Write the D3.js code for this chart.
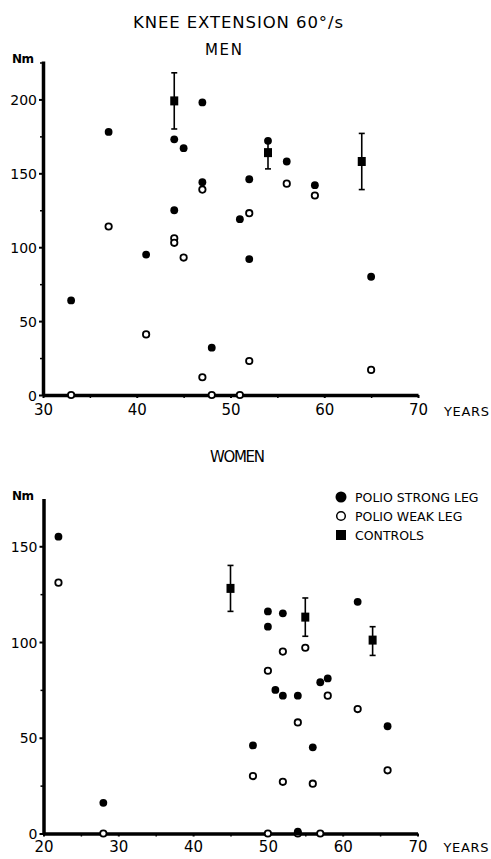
<!DOCTYPE html>
<html><head><meta charset="utf-8">
<script src="https://cdn.jsdelivr.net/npm/d3@7"></script>
<style>body{margin:0;background:#fff}svg{display:block}text{font-family:"DejaVu Sans",sans-serif;fill:#000}</style>
</head><body>
<svg id="c" width="491" height="859"></svg>
<script>
// ---- DATA ----
const menXTicks = [30, 40, 50, 60, 70];
const menYTicks = [0, 50, 100, 150, 200];
const womenXTicks = [20, 30, 40, 50, 60, 70];
const womenYTicks = [0, 50, 100, 150];
// [age, Nm]
const menStrong = [[33,64],[37,178],[41,95],[44,125],[44,173],[45,167],[47,198],[47,144],[48,32],[51,119],[52,92],[52,146],[54,172],[56,158],[59,142],[65,80]];
const menWeak = [[33,0],[37,114],[41,41],[44,106],[44,103],[45,93],[47,139],[47,12],[48,0],[51,0],[52,123],[52,23],[56,143],[59,135],[65,17]];
// [age, mean, low, high]
const menControls = [[44,199,180,218],[54,164,153,172],[64,158,139,177]];
const womenStrong = [[22,155],[28,16],[48,46],[50,116],[50,108],[52,115],[51,75],[52,72],[54,72],[56,45],[57,79],[58,81],[62,121],[66,56],[54,1]];
const womenWeak = [[22,131],[28,0],[48,30],[50,85],[50,0],[52,95],[52,27],[54,58],[54,0],[55,97],[56,26],[57,0],[58,72],[62,65],[66,33]];
const womenControls = [[45,128,116,140],[55,113,103,123],[64,101,93,108]];
const legendLabels = ["POLIO STRONG LEG", "POLIO WEAK LEG", "CONTROLS"];

const svg = d3.select("#c");

function panel(cfg){
  const x = d3.scaleLinear().domain(cfg.xDom).range(cfg.xRange);
  const y = d3.scaleLinear().domain(cfg.yDom).range(cfg.yRange);
  const g = svg.append("g");
  // minor ticks
  const minorY = d3.range(cfg.yTicks[0] + 25, cfg.yDom[1], 50);
  g.append("g").attr("transform", `translate(${cfg.xRange[0]},0)`)
    .call(d3.axisLeft(y).tickValues(minorY).tickSize(3).tickSizeOuter(0).tickFormat(""))
    .call(a => a.select(".domain").remove())
    .call(a => a.selectAll("line").attr("stroke-width", 1.5));
  const minorX = d3.range(cfg.xDom[0] + 5, cfg.xDom[1], 10);
  g.append("g").attr("transform", `translate(0,${cfg.yRange[0]})`)
    .call(d3.axisBottom(x).tickValues(minorX).tickSize(3).tickSizeOuter(0).tickFormat(""))
    .call(a => a.select(".domain").remove())
    .call(a => a.selectAll("line").attr("stroke-width", 1.5));
  // y axis
  const ya = g.append("g").attr("transform", `translate(${cfg.xRange[0]},0)`)
    .call(d3.axisLeft(y).tickValues(cfg.yTicks).tickSize(4).tickSizeOuter(0).tickPadding(2));
  ya.select(".domain").attr("stroke-width", 3.5);
  ya.selectAll("line").attr("stroke-width", 2);
  ya.selectAll("text").style("font-size", "14px").style("font-family", '"DejaVu Sans",sans-serif').attr("dy", "0.36em");
  // x axis
  const xa = g.append("g").attr("transform", `translate(0,${cfg.yRange[0]})`)
    .call(d3.axisBottom(x).tickValues(cfg.xTicks).tickSize(3).tickSizeOuter(0).tickPadding(cfg.xPad));
  xa.select(".domain").attr("stroke-width", 3.5);
  xa.selectAll("line").attr("stroke-width", 2);
  xa.selectAll("text").style("font-size", "15px").style("font-family", '"DejaVu Sans",sans-serif');
  g.append("text").attr("x", cfg.xRange[1] + 26).attr("y", cfg.yRange[0] + cfg.yearsDy)
    .style("font-size", "13px").attr("textLength", 45).text("YEARS");
  g.append("text").attr("x", 12).attr("y", cfg.yRange[1] + 2)
    .style("font-size", "12px").style("font-weight", "bold").style("letter-spacing", "-0.5px").text("Nm");
  g.append("text").attr("x", cfg.titleX).attr("y", cfg.titleY).attr("text-anchor", "middle")
    .style("font-size", "15px").attr("textLength", cfg.titleLen).text(cfg.title);

  const m = g.append("g");
  // controls
  cfg.controls.forEach(d => {
    const cx = x(d[0]);
    m.append("line").attr("x1", cx).attr("x2", cx).attr("y1", y(d[2])).attr("y2", y(d[3])).attr("stroke", "#000").attr("stroke-width", 1.6);
    [d[2], d[3]].forEach(v => m.append("line").attr("x1", cx - 3).attr("x2", cx + 3).attr("y1", y(v)).attr("y2", y(v)).attr("stroke", "#000").attr("stroke-width", 1.6));
    m.append("rect").attr("x", cx - 4).attr("y", y(d[1]) - 4.5).attr("width", 8).attr("height", 9).attr("fill", "#000");
  });
  m.selectAll(".w").data(cfg.weak).join("circle").attr("cx", d => x(d[0])).attr("cy", d => y(d[1]))
    .attr("r", 3.2).attr("fill", "#fff").attr("stroke", "#000").attr("stroke-width", 1.8);
  m.selectAll(".s").data(cfg.strong).join("circle").attr("cx", d => x(d[0])).attr("cy", d => y(d[1]))
    .attr("r", 3.9).attr("fill", "#000");
  return {x, y};
}

svg.append("text").attr("x", 238).attr("y", 28).attr("text-anchor", "middle")
  .style("font-size", "16.5px").attr("textLength", 210).text("KNEE EXTENSION 60°/s");

panel({xDom:[30,70], xRange:[43,418], yDom:[0,226], yRange:[395,61],
  xTicks: menXTicks, yTicks: menYTicks, strong: menStrong, weak: menWeak, controls: menControls,
  title: "MEN", titleX: 223.5, titleY: 55, titleLen: 37, xPad: 6, yearsDy: 21});

panel({xDom:[20,70], xRange:[43.5,417.5], yDom:[0,175], yRange:[833.5,498.4],
  xTicks: womenXTicks, yTicks: womenYTicks, strong: womenStrong, weak: womenWeak, controls: womenControls,
  title: "WOMEN", titleX: 237.5, titleY: 462, titleLen: 55, xPad: 5, yearsDy: 18.5});

// legend
const lg = svg.append("g");
const ly = [497, 516, 535];
lg.append("circle").attr("cx", 341).attr("cy", ly[0]).attr("r", 5.5).attr("fill", "#000");
lg.append("circle").attr("cx", 341).attr("cy", ly[1]).attr("r", 4.3).attr("fill", "#fff").attr("stroke", "#000").attr("stroke-width", 1.5);
lg.append("rect").attr("x", 336).attr("y", ly[2] - 5).attr("width", 10).attr("height", 10).attr("fill", "#000");
lg.selectAll("text").data(legendLabels).join("text").attr("x", 355).attr("y", (d, i) => ly[i] + 5)
  .style("font-size", "12.5px").text(d => d);
</script>
</body></html>
